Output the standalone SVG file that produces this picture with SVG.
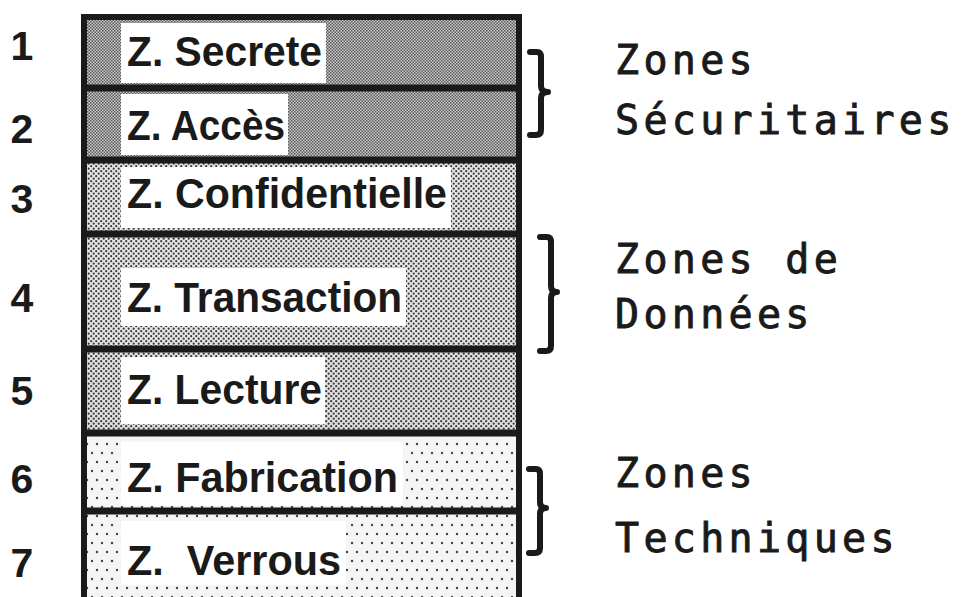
<svg xmlns="http://www.w3.org/2000/svg" width="965" height="597" viewBox="0 0 965 597">
  <style>
    .num { font-family: "Liberation Sans", Arial, sans-serif; font-weight: bold; font-size: 41px; fill: #1a1a1a; text-anchor: middle; }
    .lbl { font-family: "Liberation Sans", Arial, sans-serif; font-weight: bold; font-size: 42px; fill: #1a1a1a; }
    .grp { font-family: "DejaVu Sans Mono", "Liberation Mono", monospace; font-size: 40px; letter-spacing: 4.3px; fill: #1a1a1a; stroke: #1a1a1a; stroke-width: 0.9px; }
    .frame { fill: none; stroke: #1a1a1a; stroke-width: 6; }
    .div { stroke: #1a1a1a; stroke-width: 7; }
    .brace { fill: none; stroke: #1a1a1a; stroke-width: 6; stroke-linejoin: round; stroke-linecap: round; }
    .box { fill: #ffffff; }
  </style>
  <defs>
    <!-- dense checker halftone for the security zones -->
    <pattern id="dark" width="3" height="3" patternUnits="userSpaceOnUse">
      <rect width="3" height="3" fill="#cacaca"/>
      <rect x="0" y="0" width="1.5" height="1.5" fill="#5a5a5a"/>
      <rect x="1.5" y="1.5" width="1.5" height="1.5" fill="#5a5a5a"/>
    </pattern>
    <!-- medium dot screen for the data zones -->
    <pattern id="medium" width="5" height="5" patternUnits="userSpaceOnUse">
      <rect width="5" height="5" fill="#e6e6e6"/>
      <circle cx="1.2" cy="1.2" r="1.1" fill="#3a3a3a"/>
      <circle cx="3.7" cy="3.7" r="1.1" fill="#3a3a3a"/>
    </pattern>
    <pattern id="medium2" width="5" height="5" patternUnits="userSpaceOnUse">
      <rect width="5" height="5" fill="#e2e2e2"/>
      <circle cx="1.2" cy="1.2" r="1.12" fill="#3a3a3a"/>
      <circle cx="3.7" cy="3.7" r="1.12" fill="#3a3a3a"/>
    </pattern>
    <!-- sparse dot screen for the technical zones -->
    <pattern id="light" width="10" height="18" patternUnits="userSpaceOnUse">
      <rect width="10" height="18" fill="#f5f5f5"/>
      <circle cx="2" cy="3" r="1.2" fill="#444"/>
      <circle cx="7" cy="12" r="1.2" fill="#444"/>
    </pattern>
  </defs>

  <rect width="965" height="597" fill="#ffffff"/>

  <!-- zone fills -->
  <g id="zone1">
    <rect x="84" y="17" width="435" height="71" fill="url(#dark)"/>
    <rect class="box" x="121" y="23" width="205" height="60"/>
    <text class="lbl" x="127" y="66" textLength="195" lengthAdjust="spacingAndGlyphs">Z. Secrete</text>
    <text class="num" x="22" y="60">1</text>
  </g>
  <g id="zone2">
    <rect x="84" y="88" width="435" height="72" fill="url(#dark)"/>
    <rect class="box" x="121" y="94" width="167" height="61"/>
    <text class="lbl" x="127" y="140" textLength="158" lengthAdjust="spacingAndGlyphs">Z. Accès</text>
    <text class="num" x="22" y="143">2</text>
  </g>
  <g id="zone3">
    <rect x="84" y="160" width="435" height="74" fill="url(#medium)"/>
    <rect class="box" x="121" y="167" width="330" height="61"/>
    <text class="lbl" x="127" y="208" textLength="320" lengthAdjust="spacingAndGlyphs">Z. Confidentielle</text>
    <text class="num" x="22" y="213">3</text>
  </g>
  <g id="zone4">
    <rect x="84" y="234" width="435" height="115" fill="url(#medium)"/>
    <rect class="box" x="121" y="268" width="285" height="58"/>
    <text class="lbl" x="127" y="312" textLength="275" lengthAdjust="spacingAndGlyphs">Z. Transaction</text>
    <text class="num" x="22" y="312">4</text>
  </g>
  <g id="zone5">
    <rect x="84" y="349" width="435" height="84" fill="url(#medium2)"/>
    <rect class="box" x="121" y="357" width="204" height="67"/>
    <text class="lbl" x="127" y="404" textLength="195" lengthAdjust="spacingAndGlyphs">Z. Lecture</text>
    <text class="num" x="22" y="405">5</text>
  </g>
  <g id="zone6">
    <rect x="84" y="433" width="435" height="78" fill="url(#light)"/>
    <rect class="box" x="121" y="442" width="282" height="64"/>
    <text class="lbl" x="127" y="492" textLength="271" lengthAdjust="spacingAndGlyphs">Z. Fabrication</text>
    <text class="num" x="22" y="493">6</text>
  </g>
  <g id="zone7">
    <rect x="84" y="511" width="435" height="90" fill="url(#light)"/>
    <rect class="box" x="121" y="521" width="225" height="64"/>
    <text class="lbl" x="127" y="575" textLength="214" lengthAdjust="spacingAndGlyphs" xml:space="preserve">Z.  Verrous</text>
    <text class="num" x="22" y="577">7</text>
  </g>

  <!-- frame and separators -->
  <g id="connectors">
    <rect class="frame" x="84" y="17" width="435" height="600"/>
    <line class="div" x1="84" y1="88" x2="519" y2="88"/>
    <line class="div" x1="84" y1="160" x2="519" y2="160"/>
    <line class="div" x1="84" y1="234" x2="519" y2="234"/>
    <line class="div" x1="84" y1="349" x2="519" y2="349"/>
    <line class="div" x1="84" y1="433" x2="519" y2="433"/>
    <line class="div" x1="84" y1="511" x2="519" y2="511"/>

    <!-- braces -->
    <path class="brace" d="M530,52 L537,52 Q541,52 541,57 L541,86 Q541,92 548,92 Q541,92 541,98 L541,130 Q541,135 536,135 L530,135"/>
    <path class="brace" d="M540,237 L547,237 Q551,237 551,242 L551,286 Q551,292 557,292 Q551,292 551,298 L551,346 Q551,351 546,351 L540,351"/>
    <path class="brace" d="M529,469 L536,469 Q540,469 540,474 L540,502 Q540,508 546,508 Q540,508 540,514 L540,548 Q540,553 535,553 L529,553"/>
  </g>

  <!-- group captions -->
  <g id="cap-securitaires">
    <text class="grp" x="615" y="74">Zones</text>
    <text class="grp" x="615" y="134">Sécuritaires</text>
  </g>
  <g id="cap-donnees">
    <text class="grp" x="615" y="273">Zones de</text>
    <text class="grp" x="615" y="328">Données</text>
  </g>
  <g id="cap-techniques">
    <text class="grp" x="615" y="487">Zones</text>
    <text class="grp" x="615" y="552">Techniques</text>
  </g>
</svg>
